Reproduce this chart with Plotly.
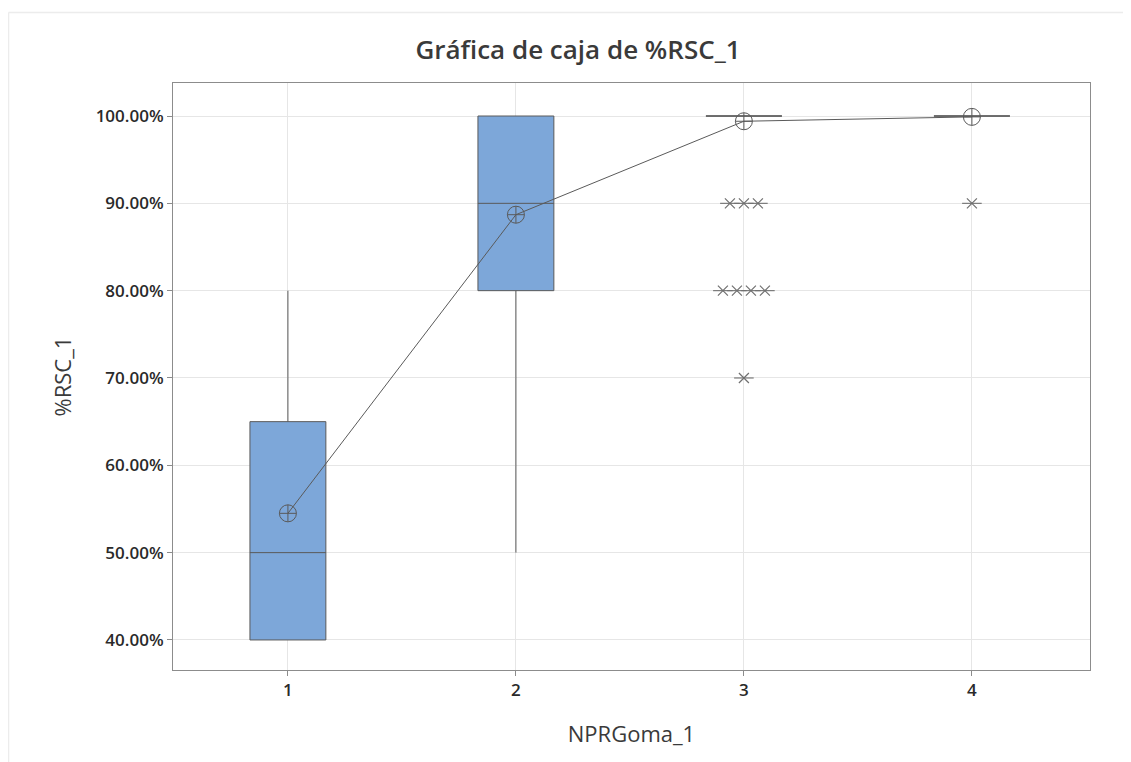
import plotly.graph_objects as go
from collections import defaultdict

# ---- data ----
groups = [1, 2, 3, 4]
q1_vals = [40, 80, 100, 100]
median_vals = [50, 90, 100, 100]
q3_vals = [65, 100, 100, 100]
lower_whisker = [40, 50, 100, 100]
upper_whisker = [80, 100, 100, 100]
mean_vals = [54.5, 88.7, 99.4, 99.9]
outlier_groups = [3, 3, 3, 3, 3, 3, 3, 3, 4]
outlier_values = [90, 90, 90, 80, 80, 80, 80, 70, 90]
y_ticks = [40, 50, 60, 70, 80, 90, 100]

GRAY = "#5a5a5a"
STAR = "#707070"
FONT = "Open Sans"
OFF = 8  # page body margin

fig = go.Figure()

fig.add_trace(go.Box(
    x=groups, q1=q1_vals, median=median_vals, q3=q3_vals,
    lowerfence=lower_whisker, upperfence=upper_whisker,
    width=0.333, whiskerwidth=0,
    fillcolor="#7da7d9", line=dict(color=GRAY, width=1),
    boxpoints=False, showlegend=False, hoverinfo="skip",
))

# outliers, spread horizontally when they share the same value
spacing = 0.0614
buckets = defaultdict(list)
for g, v in zip(outlier_groups, outlier_values):
    buckets[(g, v)].append(v)
ox, oy = [], []
for (g, v), items in buckets.items():
    n = len(items)
    for i in range(n):
        ox.append(g + (i - (n - 1) / 2) * spacing)
        oy.append(v)
# Minitab-style asterisk: diagonal cross plus horizontal bar
fig.add_trace(go.Scatter(
    x=ox, y=oy, mode="markers",
    marker=dict(symbol="x-thin-open", size=10, color=STAR, line=dict(color=STAR, width=1.2)),
    showlegend=False, hoverinfo="skip",
))
fig.add_trace(go.Scatter(
    x=ox, y=oy, mode="markers",
    marker=dict(symbol="line-ew-open", size=14, color=STAR, line=dict(color=STAR, width=1.1)),
    showlegend=False, hoverinfo="skip",
))

# mean connect line
fig.add_trace(go.Scatter(
    x=groups, y=mean_vals, mode="lines+markers",
    line=dict(color=GRAY, width=1),
    marker=dict(symbol="circle-cross-open", size=17, color=GRAY, line=dict(color=GRAY, width=1)),
    showlegend=False, hoverinfo="skip",
))

W, H = 1131, 762
PL, PR, PT, PB = 173, 1090, 83, 670


def px_x(p):
    return (p - PL) / (PR - PL)


def px_y(p):
    return (PB - p) / (PB - PT)


fig.update_layout(
    width=W, height=H,
    paper_bgcolor="white", plot_bgcolor="white",
    margin=dict(l=PL - OFF, r=W + OFF - PR, t=PT - OFF, b=H + OFF - PB),
    font=dict(family=FONT, color="#333333"),
    title=dict(text="Gráfica de caja de %RSC_1", x=(578 - OFF) / W, xref="container", xanchor="center",
               y=1 - (50 - OFF) / H, yref="container", yanchor="middle",
               font=dict(size=26, family=FONT, color="#3a3a3a", weight=600)),
    shapes=[
        dict(type="line", xref="paper", yref="paper",
             x0=px_x(8.5), x1=px_x(1140), y0=px_y(12.5), y1=px_y(12.5),
             line=dict(color="#ececec", width=1.5)),
        dict(type="line", xref="paper", yref="paper",
             x0=px_x(8.5), x1=px_x(8.5), y0=px_y(12.5), y1=px_y(770),
             line=dict(color="#ececec", width=1.5)),
    ],
)
fig.update_xaxes(
    range=[0.496, 4.518], tickvals=groups, ticktext=[str(g) for g in groups],
    showgrid=True, gridcolor="#e6e6e6", gridwidth=1,
    showline=True, linecolor="#8c8c8c", linewidth=1, mirror=True,
    ticks="outside", ticklen=5, tickcolor="#8c8c8c",
    tickfont=dict(size=17, family=FONT, color="#2a2a2a", weight=600),
    title=dict(text="NPRGoma_1", font=dict(size=22, family=FONT, color="#3a3a3a"), standoff=26),
    zeroline=False,
)
fig.update_yaxes(
    range=[36.56, 103.78], tickvals=y_ticks,
    ticktext=[f"{t:.2f}%" for t in y_ticks],
    showgrid=True, gridcolor="#e6e6e6", gridwidth=1,
    showline=True, linecolor="#8c8c8c", linewidth=1, mirror=True,
    ticks="outside", ticklen=5, tickcolor="#8c8c8c",
    tickfont=dict(size=17, family=FONT, color="#2a2a2a", weight=600),
    title=dict(text="%RSC_1", font=dict(size=22, family=FONT, color="#3a3a3a"), standoff=17),
    zeroline=False,
)

fig.write_html("out.html")
